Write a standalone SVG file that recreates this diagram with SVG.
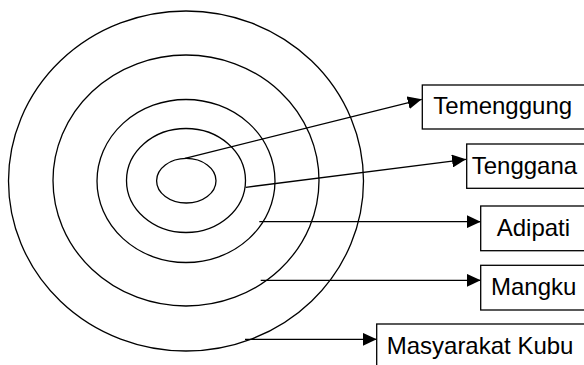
<svg xmlns="http://www.w3.org/2000/svg" width="584" height="365" viewBox="0 0 584 365">
<defs>
<style>
.ring{fill:none;stroke:#000;stroke-width:1.3}
.box{fill:#fff;stroke:#000;stroke-width:1.3}
.conn{fill:none;stroke:#000;stroke-width:1.3}
.lbl{font-family:"Liberation Sans",Arial,sans-serif;font-size:24px;fill:#000}
</style>
<marker id="arr" markerUnits="userSpaceOnUse" markerWidth="15" markerHeight="13" refX="14" refY="6.5" orient="auto">
<path d="M0,0 L14,6.5 L0,13 z" fill="#000"/>
</marker>
</defs>
<rect width="584" height="365" fill="#fff"/>
<g id="rings">
<ellipse class="ring" cx="186" cy="181" rx="177.5" ry="170"/>
<ellipse class="ring" cx="186" cy="180.5" rx="133" ry="125.5"/>
<ellipse class="ring" cx="186" cy="181" rx="89" ry="81.5"/>
<ellipse class="ring" cx="186" cy="180.5" rx="59.5" ry="52"/>
<ellipse class="ring" cx="186.3" cy="180.7" rx="29.7" ry="22.3"/>
</g>
<g id="connectors">
<line class="conn" x1="185" y1="158.3" x2="421.7" y2="99.3" marker-end="url(#arr)"/>
<line class="conn" x1="245.7" y1="187.3" x2="466" y2="159.3" marker-end="url(#arr)"/>
<line class="conn" x1="259.3" y1="221.7" x2="480.7" y2="221.7" marker-end="url(#arr)"/>
<line class="conn" x1="260.7" y1="280.3" x2="480.7" y2="280.3" marker-end="url(#arr)"/>
<line class="conn" x1="245" y1="339.3" x2="376.7" y2="339.3" marker-end="url(#arr)"/>
</g>
<g id="temenggung">
<rect class="box" x="422.3" y="85" width="180" height="44"/>
<text class="lbl" x="433.3" y="114">Temenggung</text>
</g>
<g id="tenggana">
<rect class="box" x="466.7" y="144" width="140" height="44.3"/>
<text class="lbl" x="471.7" y="174.3">Tenggana</text>
</g>
<g id="adipati">
<rect class="box" x="480.7" y="206" width="130" height="44.7"/>
<text class="lbl" x="496.7" y="236">Adipati</text>
</g>
<g id="mangku">
<rect class="box" x="480.7" y="265.3" width="130" height="44.7"/>
<text class="lbl" x="491" y="295">Mangku</text>
</g>
<g id="masyarakat-kubu">
<rect class="box" x="376.7" y="324" width="230" height="60"/>
<text class="lbl" x="386.7" y="354">Masyarakat Kubu</text>
</g>
</svg>
